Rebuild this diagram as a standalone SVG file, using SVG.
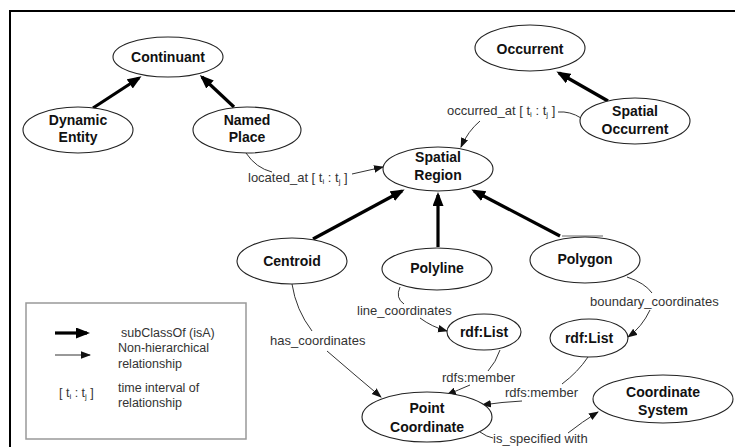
<svg xmlns="http://www.w3.org/2000/svg" width="735" height="447" viewBox="0 0 735 447">
<style>
  .node ellipse { fill: #fff; stroke: #222; stroke-width: 1.1; }
  .node text { font-family: "Liberation Sans", Arial, sans-serif; font-size: 14px; font-weight: bold; fill: #111; text-anchor: middle; }
  .thick { stroke: #000; stroke-width: 3.2; fill: none; marker-end: url(#headThick); }
  .thin { stroke: #333; stroke-width: 1; fill: none; }
  .thinArrow { stroke: #333; stroke-width: 1; fill: none; marker-end: url(#headThin); }
  .lbl { font-family: "Liberation Sans", Arial, sans-serif; font-size: 13px; fill: #333; }
  .leg { font-family: "Liberation Sans", Arial, sans-serif; font-size: 12.5px; fill: #333; }
  .sub { font-size: 8px; }
</style>
<defs>
  <marker id="headThick" markerUnits="userSpaceOnUse" markerWidth="16" markerHeight="12" refX="11" refY="5.5" orient="auto">
    <path d="M0,0 L14,5.5 L0,11 z" fill="#000"/>
  </marker>
  <marker id="headThin" markerUnits="userSpaceOnUse" markerWidth="12" markerHeight="9" refX="9" refY="3.75" orient="auto">
    <path d="M0,0 L10,3.75 L0,7.5 z" fill="#111"/>
  </marker>
</defs>
<rect width="735" height="447" fill="#fff"/>
<path d="M10,447 L10,11 L735,11" fill="none" stroke="#000" stroke-width="2"/>

<g id="connectors">
  <!-- subClassOf -->
  <path class="thick" d="M93,108 L139,78"/>
  <path class="thick" d="M234,107 L202,77"/>
  <path class="thick" d="M608,101 L559,73"/>
  <path class="thick" d="M313,239 L402,191"/>
  <path class="thick" d="M438,247 L438,195"/>
  <path class="thick" d="M560,236 L474,191"/>
  <path d="M562,236 L603,236" stroke="#999" stroke-width="1.5" fill="none"/>
  <!-- located_at -->
  <path class="thin" d="M246,153 Q256,168 272,172"/>
  <path class="thinArrow" d="M352,174 L383,167"/>
  <text class="lbl" x="248" y="182">located_at [ t<tspan class="sub" dy="2">i</tspan><tspan dy="-2"> : t</tspan><tspan class="sub" dy="2">j</tspan><tspan dy="-2"> ]</tspan></text>
  <!-- occurred_at -->
  <path class="thin" d="M581,118 Q570,111 558,112"/>
  <path class="thinArrow" d="M480,121 Q468,131 461,147"/>
  <text class="lbl" x="447" y="115">occurred_at [ t<tspan class="sub" dy="2">i</tspan><tspan dy="-2"> : t</tspan><tspan class="sub" dy="2">j</tspan><tspan dy="-2"> ]</tspan></text>
  <!-- has_coordinates -->
  <path class="thin" d="M292,284 Q296,310 312,331"/>
  <path class="thinArrow" d="M327,351 Q356,376 381,397"/>
  <text class="lbl" x="270" y="345">has_coordinates</text>
  <!-- line_coordinates -->
  <path class="thin" d="M400,287 Q395,298 404,304"/>
  <path class="thinArrow" d="M420,318 Q432,327 447,331"/>
  <text class="lbl" x="357" y="315">line_coordinates</text>
  <!-- boundary_coordinates -->
  <path class="thin" d="M627,277 Q645,283 652,293"/>
  <path class="thinArrow" d="M650,310 Q642,327 628,337"/>
  <text class="lbl" x="590" y="306">boundary_coordinates</text>
  <!-- rdfs:member 1 -->
  <path class="thin" d="M500,350 Q496,362 488,371"/>
  <path class="thinArrow" d="M470,385 Q458,390 447,395"/>
  <text class="lbl" x="442" y="382">rdfs:member</text>
  <!-- rdfs:member 2 -->
  <path class="thin" d="M588,357 Q578,372 562,384"/>
  <path class="thinArrow" d="M522,401 Q502,402 482,405"/>
  <text class="lbl" x="505" y="397">rdfs:member</text>
  <!-- is_specified with -->
  <path class="thin" d="M480,432 Q487,437 493,438"/>
  <path class="thinArrow" d="M568,433 Q582,422 598,412"/>
  <text class="lbl" x="493" y="443">is_specified with</text>
</g>

<g id="continuant" class="node"><ellipse cx="168" cy="57" rx="55" ry="20"/><text x="168" y="62">Continuant</text></g>
<g id="dynamic-entity" class="node"><ellipse cx="78" cy="130" rx="55" ry="23"/><text x="78" y="125">Dynamic</text><text x="78" y="142">Entity</text></g>
<g id="named-place" class="node"><ellipse cx="247" cy="130" rx="54" ry="23"/><text x="247" y="125">Named</text><text x="247" y="142">Place</text></g>
<g id="occurrent" class="node"><ellipse cx="530" cy="48" rx="55" ry="23"/><text x="530" y="54">Occurrent</text></g>
<g id="spatial-occurrent" class="node"><ellipse cx="635" cy="121" rx="55" ry="23"/><text x="635" y="116">Spatial</text><text x="635" y="134">Occurrent</text></g>
<g id="spatial-region" class="node"><ellipse cx="438" cy="169" rx="55" ry="22"/><text x="438" y="162">Spatial</text><text x="438" y="180">Region</text></g>
<g id="centroid" class="node"><ellipse cx="292" cy="261" rx="55" ry="23"/><text x="292" y="266">Centroid</text></g>
<g id="polyline" class="node"><ellipse cx="437" cy="269" rx="55" ry="21"/><text x="437" y="273">Polyline</text></g>
<g id="polygon" class="node"><ellipse cx="585" cy="260" rx="55" ry="23"/><text x="585" y="264">Polygon</text></g>
<g id="rdf-list-1" class="node"><ellipse cx="484" cy="332" rx="37" ry="18"/><text x="484" y="337">rdf:List</text></g>
<g id="rdf-list-2" class="node"><ellipse cx="589" cy="338" rx="39" ry="19"/><text x="589" y="343">rdf:List</text></g>
<g id="point-coordinate" class="node"><ellipse cx="427" cy="417" rx="65" ry="25"/><text x="427" y="413">Point</text><text x="427" y="432">Coordinate</text></g>
<g id="coordinate-system" class="node"><ellipse cx="663" cy="399" rx="70" ry="24"/><text x="663" y="397">Coordinate</text><text x="663" y="415">System</text></g>

<g id="legend">
  <rect x="26" y="303" width="220" height="136" fill="none" stroke="#999" stroke-width="1.5"/>
  <path class="thick" d="M55,333 L87,333"/>
  <path class="thinArrow" d="M55,355 L90,355"/>
  <text class="leg" x="121" y="337">subClassOf (isA)</text>
  <text class="leg" x="118" y="352">Non-hierarchical</text>
  <text class="leg" x="118" y="368">relationship</text>
  <text class="leg" x="59" y="397">[ t<tspan class="sub" dy="2">i</tspan><tspan dy="-2"> : t</tspan><tspan class="sub" dy="2">j</tspan><tspan dy="-2"> ]</tspan></text>
  <text class="leg" x="118" y="392">time interval of</text>
  <text class="leg" x="118" y="407">relationship</text>
</g>
</svg>
